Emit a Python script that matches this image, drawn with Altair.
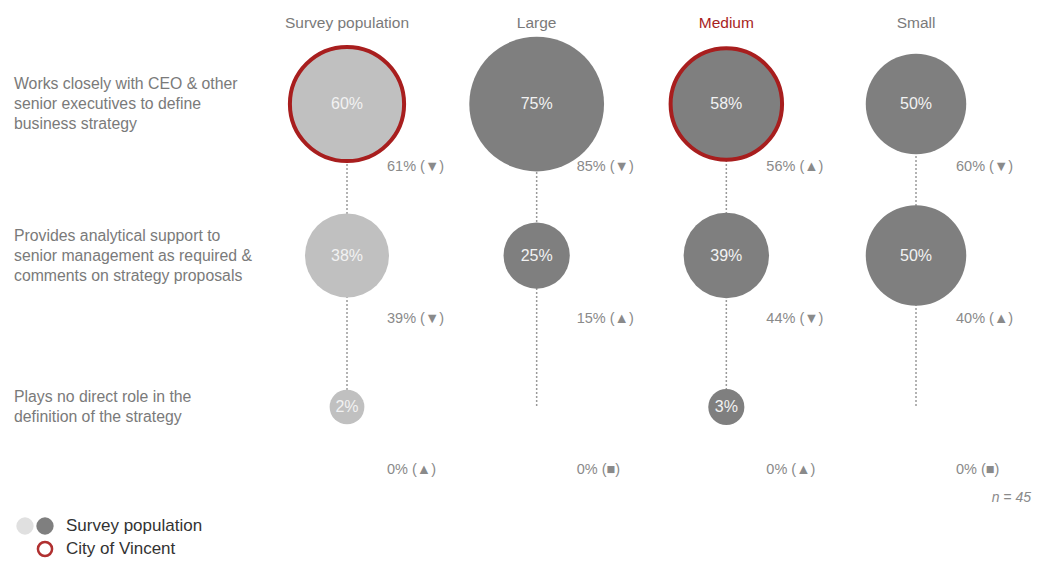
import altair as alt
import pandas as pd

columns = ["Survey population", "Large", "Medium", "Small"]
roles = [
    "Works closely with CEO & other\nsenior executives to define\nbusiness strategy",
    "Provides analytical support to\nsenior management as required &\ncomments on strategy proposals",
    "Plays no direct role in the\ndefinition of the strategy",
]
survey_vals = [60, 38, 2]
large_vals = [75, 25, 0]
medium_vals = [58, 39, 3]
small_vals = [50, 50, 0]

survey_prev = [61, 39, 0]
large_prev = [85, 15, 0]
medium_prev = [56, 44, 0]
small_prev = [60, 40, 0]

survey_trend = ["▼", "▼", "▲"]
large_trend = ["▼", "▲", "■"]
medium_trend = ["▲", "▼", "▲"]
small_trend = ["▼", "▲", "■"]

vincent_role = roles[0]
vincent_columns = ["Survey population", "Medium"]
highlight_header = "Medium"
n_label = "n = 45"
legend_labels = ["Survey population", "City of Vincent"]

values = [survey_vals, large_vals, medium_vals, small_vals]
prevs = [survey_prev, large_prev, medium_prev, small_prev]
trends = [survey_trend, large_trend, medium_trend, small_trend]

rows = []
for c, vals, pv, tr in zip(columns, values, prevs, trends):
    for r, v, p, t in zip(roles, vals, pv, tr):
        rows.append({
            "column": c, "role": r, "value": v,
            "label": f"{v}%", "compare": f"{p}% ({t})",
            "vincent": (r == vincent_role and c in vincent_columns),
        })
df = pd.DataFrame(rows)
rules_df = pd.DataFrame({"column": columns, "start": roles[0], "end": roles[-1]})
head_df = pd.DataFrame({"column": columns})
role_df = pd.DataFrame({"role": roles, "nlines": [r.count("\n") + 1 for r in roles]})

FONT = "Liberation Sans"
xs = alt.Scale(type="point", domain=columns, range=[339, 908], padding=0)
ys = alt.Scale(type="point", domain=roles, range=[96, 399], padding=0)
X = alt.X("column:N", scale=xs, axis=None)
Y = alt.Y("role:N", scale=ys, axis=None)

fill_scale = alt.Scale(domain=columns, range=["#c0c0c0", "#7f7f7f", "#7f7f7f", "#7f7f7f"])

rules = alt.Chart(rules_df).mark_rule(color="#9a9a9a", strokeDash=[2, 2], strokeWidth=1.5).encode(
    x=X, y=alt.Y("start:N", scale=ys, axis=None), y2="end:N"
)

base = alt.Chart(df).transform_filter("datum.value > 0").transform_calculate(
    sz="pow(32 + 1.37*datum.value, 2)"
)
circles = base.mark_circle(opacity=1).encode(
    x=X, y=Y,
    size=alt.Size("sz:Q", scale=None, legend=None),
    color=alt.Color("column:N", scale=fill_scale, legend=None),
)
rings = base.transform_filter("datum.vincent").mark_point(
    filled=False, shape="circle", stroke="#a81e1e", strokeWidth=4, opacity=1
).encode(x=X, y=Y, size=alt.Size("sz:Q", scale=None, legend=None))

inner = base.mark_text(font=FONT, fontSize=16, color="#f2f2f2").encode(
    x=X, y=Y, text="label:N"
)

compare = alt.Chart(df).mark_text(
    font=FONT, fontSize=14.5, color="#8a8a8a", align="left", baseline="middle", dx=40, dy=63
).encode(x=X, y=Y, text="compare:N")

heads = alt.Chart(head_df).mark_text(font=FONT, fontSize=15.5, baseline="middle").encode(
    x=X, y=alt.value(15), text="column:N",
    color=alt.condition(f"datum.column == '{highlight_header}'", alt.value("#a81e1e"), alt.value("#7a7a7a")),
)

def role_layer(n, dy):
    return alt.Chart(role_df).transform_filter(f"datum.nlines == {n}").mark_text(
        font=FONT, fontSize=15.8, color="#7a7a7a", align="left", baseline="middle",
        lineBreak="\n", lineHeight=20, dy=dy
    ).encode(x=alt.value(6), y=alt.Y("role:N", scale=ys, axis=None), text="role:N")

role3 = role_layer(3, -20)
role2 = role_layer(2, -10)

n_text = alt.Chart(pd.DataFrame({"t": [n_label]})).mark_text(
    font=FONT, fontSize=14, fontStyle="italic", color="#8a8a8a", align="right", baseline="middle"
).encode(x=alt.value(1023), y=alt.value(490), text="t:N")

one = pd.DataFrame({"k": [0]})
leg_light = alt.Chart(one).mark_circle(color="#e0e0e0", opacity=1, size=300).encode(
    x=alt.value(17), y=alt.value(518))
leg_dark = alt.Chart(one).mark_circle(color="#7f7f7f", opacity=1, size=300).encode(
    x=alt.value(37), y=alt.value(518))
leg_ring = alt.Chart(one).mark_point(
    shape="circle", filled=False, stroke="#b03030", strokeWidth=2.5, opacity=1, size=200
).encode(x=alt.value(37), y=alt.value(541))
leg_t1 = alt.Chart(pd.DataFrame({"t": [legend_labels[0]]})).mark_text(
    font=FONT, fontSize=17, color="#333333", align="left", baseline="middle"
).encode(x=alt.value(58), y=alt.value(518), text="t:N")
leg_t2 = alt.Chart(pd.DataFrame({"t": [legend_labels[1]]})).mark_text(
    font=FONT, fontSize=17, color="#333333", align="left", baseline="middle"
).encode(x=alt.value(58), y=alt.value(541), text="t:N")

chart = alt.layer(
    rules, circles, rings, inner, compare, heads, role3, role2, n_text,
    leg_light, leg_dark, leg_ring, leg_t1, leg_t2
).properties(
    width=1024, height=550, autosize=alt.AutoSizeParams(type="none"), padding=0
).configure_view(stroke=None).resolve_scale(color="independent")

chart.save("out.html", embed_options={"renderer": "svg", "actions": False})
